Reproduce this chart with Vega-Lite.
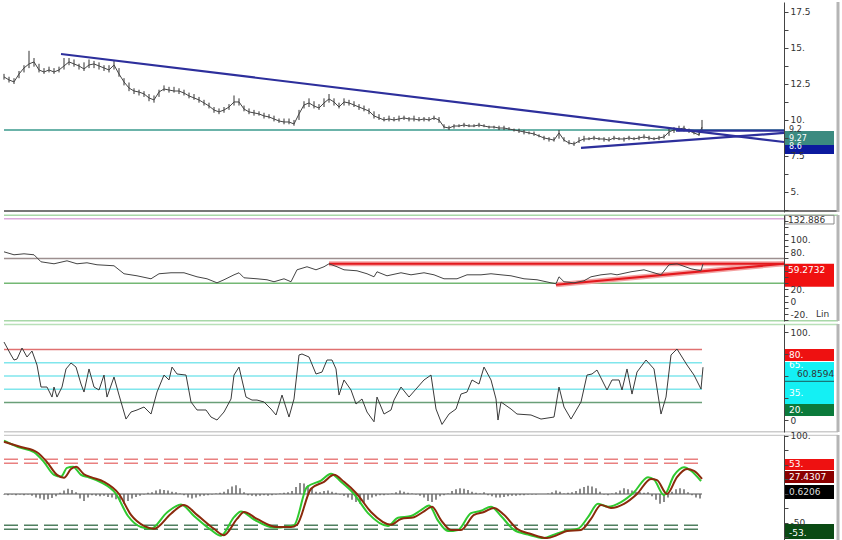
{
"$schema": "https://vega.github.io/schema/vega-lite/v6.json",
"padding": 0,
"background": "white",
"bounds": "flush",
"spacing": 3,
"config": {
  "view": {"stroke": null},
  "text": {"font": "DejaVu Sans"}
},
"datasets": {
  "price": [
    {"x":0,"v":12.99,"h":13.2,"l":12.8},{"x":5,"v":12.78,"h":13.0,"l":12.6},{"x":10,"v":12.64,"h":12.9,"l":12.5},{"x":15,"v":13.19,"h":13.4,"l":12.9},
    {"x":20,"v":13.61,"h":13.8,"l":13.3},{"x":25,"v":13.89,"h":14.8,"l":13.6},{"x":30,"v":14.03,"h":14.3,"l":13.7},{"x":35,"v":13.47,"h":13.9,"l":13.3},
    {"x":40,"v":13.33,"h":13.6,"l":13.2},{"x":45,"v":13.47,"h":13.7,"l":13.3},{"x":50,"v":13.33,"h":13.6,"l":13.2},{"x":55,"v":13.47,"h":13.7,"l":13.3},
    {"x":60,"v":13.75,"h":14.3,"l":13.5},{"x":65,"v":14.03,"h":14.3,"l":13.8},{"x":70,"v":13.89,"h":14.2,"l":13.7},{"x":75,"v":13.75,"h":13.9,"l":13.5},
    {"x":80,"v":13.54,"h":14.0,"l":13.4},{"x":85,"v":13.82,"h":14.2,"l":13.6},{"x":90,"v":13.89,"h":14.1,"l":13.6},{"x":95,"v":13.75,"h":14.0,"l":13.5},
    {"x":100,"v":13.61,"h":13.8,"l":13.4},{"x":105,"v":13.47,"h":13.8,"l":13.3},{"x":110,"v":13.82,"h":14.1,"l":13.5},{"x":115,"v":13.19,"h":13.6,"l":13.0},
    {"x":120,"v":12.64,"h":12.9,"l":12.4},{"x":125,"v":12.22,"h":12.6,"l":12.0},{"x":130,"v":12.01,"h":12.2,"l":11.8},{"x":135,"v":11.94,"h":12.1,"l":11.7},
    {"x":140,"v":11.81,"h":12.0,"l":11.6},{"x":145,"v":11.53,"h":11.8,"l":11.3},{"x":150,"v":11.39,"h":11.7,"l":11.2},{"x":155,"v":11.94,"h":12.1,"l":11.6},
    {"x":160,"v":12.15,"h":12.4,"l":12.0},{"x":165,"v":12.08,"h":12.3,"l":11.9},{"x":170,"v":12.01,"h":12.3,"l":11.9},{"x":175,"v":12.01,"h":12.2,"l":11.8},
    {"x":180,"v":11.87,"h":12.1,"l":11.7},{"x":185,"v":11.67,"h":11.9,"l":11.5},{"x":190,"v":11.53,"h":11.8,"l":11.4},{"x":195,"v":11.39,"h":11.6,"l":11.2},
    {"x":200,"v":11.18,"h":11.4,"l":11.0},{"x":205,"v":10.97,"h":11.2,"l":10.8},{"x":210,"v":10.69,"h":10.9,"l":10.5},{"x":215,"v":10.56,"h":10.8,"l":10.4},
    {"x":220,"v":10.69,"h":10.9,"l":10.5},{"x":225,"v":10.90,"h":11.1,"l":10.7},{"x":230,"v":11.25,"h":11.7,"l":11.0},{"x":235,"v":11.25,"h":11.5,"l":11.0},
    {"x":240,"v":10.76,"h":11.0,"l":10.6},{"x":245,"v":10.56,"h":10.8,"l":10.4},{"x":250,"v":10.49,"h":10.7,"l":10.3},{"x":255,"v":10.42,"h":10.6,"l":10.3},
    {"x":260,"v":10.28,"h":10.5,"l":10.1},{"x":265,"v":10.21,"h":10.4,"l":10.1},{"x":270,"v":10.07,"h":10.3,"l":9.9},{"x":275,"v":9.93,"h":10.1,"l":9.8},
    {"x":280,"v":9.86,"h":10.1,"l":9.7},{"x":285,"v":9.86,"h":10.1,"l":9.7},{"x":290,"v":9.72,"h":10.0,"l":9.6},{"x":295,"v":10.42,"h":10.7,"l":10.0},
    {"x":300,"v":11.04,"h":11.3,"l":10.8},{"x":305,"v":11.18,"h":11.5,"l":10.9},{"x":310,"v":10.97,"h":11.3,"l":10.8},{"x":315,"v":10.83,"h":11.1,"l":10.7},
    {"x":320,"v":11.18,"h":11.5,"l":10.9},{"x":325,"v":11.46,"h":11.8,"l":11.2},{"x":330,"v":11.25,"h":11.5,"l":11.0},{"x":335,"v":10.90,"h":11.2,"l":10.8},
    {"x":340,"v":11.25,"h":11.5,"l":11.0},{"x":345,"v":11.18,"h":11.4,"l":11.0},{"x":350,"v":11.04,"h":11.3,"l":10.9},{"x":355,"v":10.90,"h":11.1,"l":10.7},
    {"x":360,"v":10.76,"h":11.0,"l":10.6},{"x":365,"v":10.62,"h":10.8,"l":10.4},{"x":370,"v":10.28,"h":10.6,"l":10.1},{"x":375,"v":10.14,"h":10.4,"l":10.0},
    {"x":380,"v":10.00,"h":10.2,"l":9.9},{"x":385,"v":10.07,"h":10.3,"l":9.9},{"x":390,"v":10.00,"h":10.2,"l":9.9},{"x":395,"v":10.07,"h":10.3,"l":9.9},
    {"x":400,"v":10.14,"h":10.3,"l":10.0},{"x":405,"v":10.07,"h":10.2,"l":9.9},{"x":410,"v":10.07,"h":10.3,"l":9.9},{"x":415,"v":10.00,"h":10.2,"l":9.9},
    {"x":420,"v":10.07,"h":10.2,"l":9.9},{"x":425,"v":10.00,"h":10.2,"l":9.9},{"x":430,"v":10.14,"h":10.3,"l":10.0},{"x":435,"v":10.00,"h":10.2,"l":9.8},
    {"x":440,"v":9.51,"h":9.7,"l":9.4},{"x":445,"v":9.44,"h":9.6,"l":9.3},{"x":450,"v":9.58,"h":9.7,"l":9.4},{"x":455,"v":9.58,"h":9.7,"l":9.5},
    {"x":460,"v":9.65,"h":9.8,"l":9.5},{"x":465,"v":9.58,"h":9.7,"l":9.5},{"x":470,"v":9.58,"h":9.7,"l":9.5},{"x":475,"v":9.65,"h":9.8,"l":9.5},
    {"x":480,"v":9.58,"h":9.7,"l":9.5},{"x":485,"v":9.51,"h":9.6,"l":9.4},{"x":490,"v":9.51,"h":9.6,"l":9.4},{"x":495,"v":9.44,"h":9.6,"l":9.3},
    {"x":500,"v":9.44,"h":9.6,"l":9.3},{"x":505,"v":9.37,"h":9.5,"l":9.3},{"x":510,"v":9.31,"h":9.4,"l":9.2},{"x":515,"v":9.24,"h":9.4,"l":9.1},
    {"x":520,"v":9.17,"h":9.3,"l":9.0},{"x":525,"v":9.10,"h":9.2,"l":9.0},{"x":530,"v":9.03,"h":9.2,"l":8.9},{"x":535,"v":8.89,"h":9.0,"l":8.8},
    {"x":540,"v":8.75,"h":8.9,"l":8.6},{"x":545,"v":8.68,"h":8.8,"l":8.5},{"x":550,"v":8.60,"h":8.8,"l":8.5},{"x":555,"v":9.10,"h":9.3,"l":8.7},
    {"x":560,"v":8.60,"h":8.8,"l":8.5},{"x":565,"v":8.40,"h":8.6,"l":8.3},{"x":570,"v":8.33,"h":8.5,"l":8.2},{"x":575,"v":8.54,"h":8.8,"l":8.4},
    {"x":580,"v":8.68,"h":8.9,"l":8.5},{"x":585,"v":8.68,"h":8.8,"l":8.6},{"x":590,"v":8.75,"h":8.9,"l":8.6},{"x":595,"v":8.68,"h":8.8,"l":8.6},
    {"x":600,"v":8.68,"h":8.8,"l":8.5},{"x":605,"v":8.60,"h":8.8,"l":8.5},{"x":610,"v":8.75,"h":8.9,"l":8.6},{"x":615,"v":8.68,"h":8.8,"l":8.6},
    {"x":620,"v":8.68,"h":8.8,"l":8.5},{"x":625,"v":8.75,"h":8.9,"l":8.6},{"x":630,"v":8.68,"h":8.8,"l":8.6},{"x":635,"v":8.75,"h":8.9,"l":8.6},
    {"x":640,"v":8.82,"h":9.0,"l":8.7},{"x":645,"v":8.75,"h":8.9,"l":8.6},{"x":650,"v":8.68,"h":8.8,"l":8.6},{"x":655,"v":8.75,"h":8.9,"l":8.6},
    {"x":660,"v":8.82,"h":9.0,"l":8.7},{"x":665,"v":9.17,"h":9.4,"l":8.9},{"x":670,"v":9.31,"h":9.5,"l":9.1},{"x":675,"v":9.37,"h":9.6,"l":9.2},
    {"x":680,"v":9.44,"h":9.6,"l":9.2},{"x":685,"v":9.24,"h":9.4,"l":9.1},{"x":690,"v":9.10,"h":9.3,"l":9.0},{"x":695,"v":8.96,"h":9.2,"l":8.9},
    {"x":698,"v":9.51,"h":10.0,"l":9.3}
  ],
  "tl1": [
    {"x":57,"v":14.58,"g":"a"},{"x":780,"v":8.47,"g":"a"},
    {"x":577,"v":8.06,"g":"b"},{"x":780,"v":9.10,"g":"b"},
    {"x":672,"v":9.26,"g":"c"},{"x":780,"v":9.26,"g":"c"}
  ],
  "rsi": [
    {"x":0,"v":80.6},{"x":10,"v":75.8},{"x":20,"v":77.4},{"x":30,"v":75.8},{"x":37,"v":64.5},{"x":50,"v":61.3},{"x":63,"v":66.1},{"x":73,"v":61.3},
    {"x":83,"v":62.9},{"x":93,"v":59.7},{"x":110,"v":58.1},{"x":120,"v":45.2},{"x":133,"v":41.9},{"x":147,"v":37.1},{"x":155,"v":45.2},{"x":167,"v":46.8},
    {"x":180,"v":46.8},{"x":193,"v":40.3},{"x":203,"v":37.1},{"x":213,"v":30.6},{"x":220,"v":35.5},{"x":230,"v":43.5},{"x":235,"v":46.8},{"x":240,"v":38.7},
    {"x":253,"v":37.1},{"x":263,"v":35.5},{"x":270,"v":32.3},{"x":280,"v":37.1},{"x":287,"v":32.3},{"x":293,"v":51.6},{"x":303,"v":56.5},{"x":312,"v":51.6},
    {"x":320,"v":56.5},{"x":325,"v":61.3},{"x":333,"v":56.5},{"x":340,"v":51.6},{"x":353,"v":50.0},{"x":363,"v":45.2},{"x":370,"v":40.3},{"x":373,"v":48.4},
    {"x":383,"v":41.9},{"x":397,"v":46.8},{"x":407,"v":43.5},{"x":420,"v":46.8},{"x":430,"v":43.5},{"x":440,"v":37.1},{"x":453,"v":37.1},{"x":463,"v":43.5},
    {"x":477,"v":43.5},{"x":487,"v":45.2},{"x":497,"v":43.5},{"x":507,"v":41.9},{"x":520,"v":37.1},{"x":533,"v":35.5},{"x":547,"v":30.6},{"x":552,"v":29.0},
    {"x":555,"v":40.3},{"x":560,"v":32.3},{"x":570,"v":30.6},{"x":580,"v":33.9},{"x":587,"v":40.3},{"x":597,"v":43.5},{"x":607,"v":45.2},{"x":613,"v":43.5},
    {"x":627,"v":48.4},{"x":640,"v":51.6},{"x":650,"v":46.8},{"x":657,"v":43.5},{"x":665,"v":59.7},{"x":673,"v":61.3},{"x":687,"v":53.2},{"x":697,"v":50.0},
    {"x":699,"v":61.0}
  ],
  "stoch": [
    {"x":0,"v":88.6},{"x":7,"v":73.9},{"x":10,"v":68.2},{"x":13,"v":69.3},{"x":18,"v":81.8},{"x":23,"v":71.6},{"x":28,"v":78.4},{"x":33,"v":62.5},
    {"x":37,"v":37.5},{"x":43,"v":37.5},{"x":48,"v":26.1},{"x":50,"v":37.5},{"x":53,"v":26.1},{"x":58,"v":37.5},{"x":62,"v":58.0},{"x":67,"v":64.8},
    {"x":72,"v":60.2},{"x":77,"v":40.9},{"x":80,"v":31.8},{"x":85,"v":58.0},{"x":90,"v":37.5},{"x":95,"v":34.1},{"x":100,"v":51.1},{"x":103,"v":26.1},
    {"x":110,"v":48.9},{"x":115,"v":28.4},{"x":122,"v":1.1},{"x":127,"v":9.1},{"x":133,"v":11.4},{"x":140,"v":14.8},{"x":147,"v":6.8},{"x":153,"v":31.8},
    {"x":160,"v":51.1},{"x":165,"v":45.5},{"x":168,"v":60.2},{"x":173,"v":52.3},{"x":182,"v":51.1},{"x":187,"v":20.5},{"x":193,"v":11.4},{"x":202,"v":11.4},
    {"x":207,"v":3.4},{"x":213,"v":0},{"x":220,"v":9.1},{"x":227,"v":23.9},{"x":230,"v":51.1},{"x":235,"v":60.2},{"x":238,"v":45.5},{"x":242,"v":26.1},
    {"x":248,"v":22.7},{"x":253,"v":22.7},{"x":260,"v":20.5},{"x":267,"v":12.5},{"x":272,"v":5.7},{"x":278,"v":28.4},{"x":285,"v":3.4},{"x":290,"v":23.9},
    {"x":295,"v":73.9},{"x":298,"v":75.0},{"x":305,"v":71.6},{"x":312,"v":52.3},{"x":318,"v":54.5},{"x":323,"v":68.2},{"x":328,"v":68.2},{"x":332,"v":58.0},
    {"x":335,"v":28.4},{"x":340,"v":45.5},{"x":347,"v":34.1},{"x":352,"v":18.2},{"x":358,"v":23.9},{"x":363,"v":9.1},{"x":370,"v":-2.0},{"x":373,"v":26.1},
    {"x":380,"v":6.8},{"x":387,"v":11.4},{"x":390,"v":22.7},{"x":397,"v":37.5},{"x":405,"v":26.1},{"x":412,"v":35.2},{"x":420,"v":45.5},{"x":427,"v":51.1},
    {"x":432,"v":12.5},{"x":438,"v":-5.0},{"x":445,"v":6.8},{"x":452,"v":12.5},{"x":457,"v":29.5},{"x":463,"v":31.8},{"x":468,"v":45.5},{"x":475,"v":40.9},
    {"x":480,"v":60.2},{"x":487,"v":45.5},{"x":492,"v":23.9},{"x":494,"v":0},{"x":497,"v":20.5},{"x":507,"v":12.5},{"x":513,"v":6.8},{"x":527,"v":5.7},
    {"x":537,"v":1.1},{"x":550,"v":3.4},{"x":555,"v":37.5},{"x":560,"v":14.8},{"x":567,"v":1.1},{"x":577,"v":20.5},{"x":583,"v":51.1},{"x":588,"v":52.3},
    {"x":593,"v":56.8},{"x":603,"v":34.1},{"x":608,"v":45.5},{"x":615,"v":45.5},{"x":618,"v":34.1},{"x":623,"v":58.0},{"x":628,"v":29.5},{"x":633,"v":54.5},
    {"x":642,"v":68.2},{"x":650,"v":58.0},{"x":657,"v":6.8},{"x":662,"v":26.1},{"x":667,"v":73.9},{"x":673,"v":80.7},{"x":683,"v":62.5},{"x":690,"v":51.1},
    {"x":697,"v":35.2},{"x":699,"v":60.0}
  ],
  "osc": [
    {"x":0,"v":90,"g":"B"},{"x":17,"v":81,"g":"B"},{"x":33,"v":72,"g":"B"},{"x":43,"v":55,"g":"B"},{"x":53,"v":33,"g":"B"},{"x":60,"v":28,"g":"B"},
    {"x":67,"v":43,"g":"B"},{"x":72,"v":47,"g":"B"},{"x":80,"v":34,"g":"B"},{"x":87,"v":29,"g":"B"},{"x":100,"v":21,"g":"B"},{"x":115,"v":0,"g":"B"},
    {"x":127,"v":-36,"g":"B"},{"x":140,"v":-55,"g":"B"},{"x":150,"v":-60,"g":"B"},{"x":167,"v":-34,"g":"B"},{"x":180,"v":-19,"g":"B"},{"x":193,"v":-36,"g":"B"},
    {"x":210,"v":-60,"g":"B"},{"x":220,"v":-71,"g":"B"},{"x":233,"v":-43,"g":"B"},{"x":240,"v":-31,"g":"B"},{"x":253,"v":-43,"g":"B"},{"x":273,"v":-57,"g":"B"},
    {"x":287,"v":-57,"g":"B"},{"x":293,"v":-53,"g":"B"},{"x":307,"v":9,"g":"B"},{"x":320,"v":21,"g":"B"},{"x":330,"v":33,"g":"B"},{"x":340,"v":21,"g":"B"},
    {"x":353,"v":0,"g":"B"},{"x":367,"v":-31,"g":"B"},{"x":387,"v":-53,"g":"B"},{"x":397,"v":-43,"g":"B"},{"x":410,"v":-40,"g":"B"},{"x":420,"v":-30,"g":"B"},
    {"x":428,"v":-22,"g":"B"},{"x":437,"v":-45,"g":"B"},{"x":447,"v":-62,"g":"B"},{"x":457,"v":-62,"g":"B"},{"x":470,"v":-36,"g":"B"},{"x":480,"v":-31,"g":"B"},
    {"x":490,"v":-24,"g":"B"},{"x":500,"v":-36,"g":"B"},{"x":513,"v":-60,"g":"B"},{"x":527,"v":-69,"g":"B"},{"x":543,"v":-76,"g":"B"},{"x":553,"v":-71,"g":"B"},
    {"x":563,"v":-64,"g":"B"},{"x":577,"v":-62,"g":"B"},{"x":587,"v":-43,"g":"B"},{"x":597,"v":-19,"g":"B"},{"x":607,"v":-24,"g":"B"},{"x":620,"v":-17,"g":"B"},
    {"x":633,"v":0,"g":"B"},{"x":647,"v":26,"g":"B"},{"x":653,"v":24,"g":"B"},{"x":663,"v":0,"g":"B"},{"x":673,"v":29,"g":"B"},{"x":683,"v":43,"g":"B"},
    {"x":690,"v":40,"g":"B"},{"x":698,"v":26,"g":"B"},
    {"x":0,"v":92,"g":"G"},{"x":14,"v":81,"g":"G"},{"x":30,"v":72,"g":"G"},{"x":40,"v":55,"g":"G"},{"x":50,"v":33,"g":"G"},{"x":57,"v":30,"g":"G"},
    {"x":63,"v":45,"g":"G"},{"x":69,"v":47,"g":"G"},{"x":77,"v":33,"g":"G"},{"x":84,"v":29,"g":"G"},{"x":97,"v":20,"g":"G"},{"x":112,"v":0,"g":"G"},
    {"x":124,"v":-38,"g":"G"},{"x":137,"v":-57,"g":"G"},{"x":147,"v":-60,"g":"G"},{"x":163,"v":-32,"g":"G"},{"x":177,"v":-18,"g":"G"},{"x":190,"v":-38,"g":"G"},
    {"x":207,"v":-62,"g":"G"},{"x":217,"v":-72,"g":"G"},{"x":230,"v":-40,"g":"G"},{"x":237,"v":-30,"g":"G"},{"x":250,"v":-44,"g":"G"},{"x":270,"v":-58,"g":"G"},
    {"x":284,"v":-56,"g":"G"},{"x":290,"v":-54,"g":"G"},{"x":303,"v":12,"g":"G"},{"x":317,"v":23,"g":"G"},{"x":327,"v":35,"g":"G"},{"x":337,"v":21,"g":"G"},
    {"x":350,"v":0,"g":"G"},{"x":364,"v":-33,"g":"G"},{"x":384,"v":-55,"g":"G"},{"x":394,"v":-41,"g":"G"},{"x":407,"v":-38,"g":"G"},{"x":417,"v":-28,"g":"G"},
    {"x":425,"v":-20,"g":"G"},{"x":434,"v":-46,"g":"G"},{"x":444,"v":-64,"g":"G"},{"x":454,"v":-62,"g":"G"},{"x":467,"v":-33,"g":"G"},{"x":477,"v":-29,"g":"G"},
    {"x":487,"v":-22,"g":"G"},{"x":497,"v":-38,"g":"G"},{"x":510,"v":-62,"g":"G"},{"x":524,"v":-70,"g":"G"},{"x":540,"v":-76,"g":"G"},{"x":550,"v":-70,"g":"G"},
    {"x":560,"v":-64,"g":"G"},{"x":574,"v":-60,"g":"G"},{"x":584,"v":-40,"g":"G"},{"x":594,"v":-17,"g":"G"},{"x":604,"v":-22,"g":"G"},{"x":617,"v":-14,"g":"G"},
    {"x":630,"v":3,"g":"G"},{"x":644,"v":29,"g":"G"},{"x":650,"v":25,"g":"G"},{"x":660,"v":-2,"g":"G"},{"x":670,"v":32,"g":"G"},{"x":680,"v":46,"g":"G"},
    {"x":687,"v":40,"g":"G"},{"x":697,"v":22,"g":"G"}
  ],
  "hist": [
    {"x":0,"v":-1},{"x":4,"v":-2},{"x":8,"v":-1},{"x":12,"v":-2},{"x":16,"v":-1},{"x":20,"v":-2},{"x":24,"v":-1},{"x":28,"v":-3},
    {"x":32,"v":-6},{"x":36,"v":-8},{"x":40,"v":-10},{"x":44,"v":-9},{"x":48,"v":-7},{"x":52,"v":-4},{"x":56,"v":2},{"x":60,"v":6},
    {"x":64,"v":9},{"x":68,"v":7},{"x":72,"v":3},{"x":76,"v":-8},{"x":80,"v":-12},{"x":84,"v":-6},{"x":88,"v":-2},{"x":92,"v":-3},
    {"x":96,"v":-4},{"x":100,"v":-3},{"x":104,"v":-5},{"x":108,"v":-6},{"x":112,"v":-9},{"x":116,"v":-14},{"x":120,"v":-17},{"x":124,"v":-12},
    {"x":128,"v":-8},{"x":132,"v":-5},{"x":136,"v":-3},{"x":140,"v":-1},{"x":144,"v":2},{"x":148,"v":3},{"x":152,"v":6},{"x":156,"v":8},
    {"x":160,"v":7},{"x":164,"v":6},{"x":168,"v":4},{"x":172,"v":3},{"x":176,"v":1},{"x":180,"v":-2},{"x":184,"v":-6},{"x":188,"v":-8},
    {"x":192,"v":-6},{"x":196,"v":-4},{"x":200,"v":-3},{"x":204,"v":-2},{"x":208,"v":-1},{"x":212,"v":1},{"x":216,"v":2},{"x":220,"v":4},
    {"x":224,"v":8},{"x":228,"v":13},{"x":232,"v":15},{"x":236,"v":10},{"x":240,"v":3},{"x":244,"v":-2},{"x":248,"v":-3},{"x":252,"v":-4},
    {"x":256,"v":-3},{"x":260,"v":-2},{"x":264,"v":-3},{"x":268,"v":-2},{"x":272,"v":-1},{"x":276,"v":1},{"x":280,"v":2},{"x":284,"v":3},
    {"x":288,"v":5},{"x":292,"v":12},{"x":296,"v":19},{"x":300,"v":18},{"x":304,"v":15},{"x":308,"v":10},{"x":312,"v":4},{"x":316,"v":3},
    {"x":320,"v":5},{"x":324,"v":6},{"x":328,"v":4},{"x":332,"v":2},{"x":336,"v":-1},{"x":340,"v":-3},{"x":344,"v":-6},{"x":348,"v":-10},
    {"x":352,"v":-14},{"x":356,"v":-17},{"x":360,"v":-15},{"x":364,"v":-10},{"x":368,"v":-6},{"x":372,"v":-4},{"x":376,"v":-2},{"x":380,"v":-2},
    {"x":384,"v":-1},{"x":388,"v":1},{"x":392,"v":3},{"x":396,"v":6},{"x":400,"v":4},{"x":404,"v":2},{"x":408,"v":1},{"x":412,"v":-1},
    {"x":416,"v":-3},{"x":420,"v":-6},{"x":424,"v":-12},{"x":428,"v":-14},{"x":432,"v":-10},{"x":436,"v":-4},{"x":440,"v":-2},{"x":444,"v":1},
    {"x":448,"v":5},{"x":452,"v":8},{"x":456,"v":10},{"x":460,"v":9},{"x":464,"v":7},{"x":468,"v":4},{"x":472,"v":2},{"x":476,"v":1},
    {"x":480,"v":3},{"x":484,"v":-2},{"x":488,"v":-4},{"x":492,"v":-6},{"x":496,"v":-6},{"x":500,"v":-5},{"x":504,"v":-4},{"x":508,"v":-3},
    {"x":512,"v":-3},{"x":516,"v":-2},{"x":520,"v":-2},{"x":524,"v":-1},{"x":528,"v":-1},{"x":532,"v":-1},{"x":536,"v":0},{"x":540,"v":0},
    {"x":544,"v":1},{"x":548,"v":3},{"x":552,"v":6},{"x":556,"v":4},{"x":560,"v":1},{"x":564,"v":2},{"x":568,"v":3},{"x":572,"v":5},
    {"x":576,"v":9},{"x":580,"v":12},{"x":584,"v":14},{"x":588,"v":13},{"x":592,"v":10},{"x":596,"v":4},{"x":600,"v":-1},{"x":604,"v":-2},
    {"x":608,"v":1},{"x":612,"v":3},{"x":616,"v":6},{"x":620,"v":10},{"x":624,"v":8},{"x":628,"v":6},{"x":632,"v":4},{"x":636,"v":3},
    {"x":640,"v":2},{"x":644,"v":3},{"x":648,"v":-4},{"x":652,"v":-10},{"x":656,"v":-17},{"x":660,"v":-14},{"x":664,"v":-6},{"x":668,"v":4},
    {"x":672,"v":8},{"x":676,"v":10},{"x":680,"v":8},{"x":684,"v":3},{"x":688,"v":-2},{"x":692,"v":-6},{"x":696,"v":-8}
  ]
},
"vconcat": [
  {
    "width": 780, "height": 210,
    "encoding": {
      "x": {"field": "x", "type": "quantitative", "scale": {"domain": [0, 834], "range": [0, 834], "nice": false, "zero": false}, "axis": null},
      "y": {"field": "v", "type": "quantitative", "scale": {"domain": [3.61, 18.19], "nice": false, "zero": false},
        "axis": {"orient": "right", "title": null, "grid": false, "zindex": 1, "domainColor": "#444", "tickColor": "#444", "tickSize": 4, "labelFontSize": 9, "labelColor": "#333", "labelFont": "DejaVu Sans", "labelPadding": 2,
          "values": [3.75,5,6.25,7.5,8.75,10,11.25,12.5,13.75,15,16.25,17.5],
          "labelExpr": "datum.value % 2.5 == 0 ? (datum.value % 1 == 0 ? datum.value + '.' : '' + datum.value) : ''"}}
    },
    "layer": [
      {"data": {"values": [{"x": 0, "x2": 780, "v": 9.31}]}, "mark": {"type": "rule", "color": "#3a9a8c", "strokeWidth": 1.5}, "encoding": {"x2": {"field": "x2"}}},
      {"data": {"values": [{"x": 0, "x2": 834, "v": 3.68}]}, "mark": {"type": "rule", "color": "#777", "strokeWidth": 2}, "encoding": {"x2": {"field": "x2"}}},
      {"data": {"name": "price"}, "mark": {"type": "rule", "color": "#333", "strokeWidth": 1},
       "encoding": {"y": {"field": "l", "type": "quantitative"}, "y2": {"field": "h"}}},
      {"data": {"name": "price"}, "mark": {"type": "line", "color": "#444", "strokeWidth": 1}},
      {"data": {"name": "tl1"}, "mark": {"type": "line", "color": "#2d2f9c", "strokeWidth": 2.2}, "encoding": {"detail": {"field": "g"}}},
      {"data": {"values": [{"x": 781, "x2": 830, "v": 9.24, "v2": 8.26, "c": "#3b8a80"}, {"x": 781, "x2": 830, "v": 8.26, "v2": 7.64, "c": "#0c1a9e"}]},
       "mark": {"type": "rect"},
       "encoding": {"x2": {"field": "x2"}, "y2": {"field": "v2"}, "color": {"field": "c", "type": "nominal", "scale": null}}},
      {"data": {"values": [{"x": 785, "v": 9.3, "t": "9.2", "c": "#333", "s": 8}, {"x": 785, "v": 8.68, "t": "9.27", "c": "#ffffff", "s": 8}, {"x": 785, "v": 8.1, "t": "8.6", "c": "#ffffff", "s": 8}]},
       "mark": {"type": "text", "align": "left", "baseline": "middle"},
       "encoding": {"text": {"field": "t"}, "color": {"field": "c", "type": "nominal", "scale": null}, "size": {"field": "s", "type": "quantitative", "scale": null}}},
      {"data": {"values": [{"x": 834, "v": 18.19, "v2": 3.61}]}, "mark": {"type": "rule", "color": "#b5b5b5", "strokeWidth": 3}, "encoding": {"y2": {"field": "v2"}}}
    ]
  },
  {
    "width": 780, "height": 106,
    "encoding": {
      "x": {"field": "x", "type": "quantitative", "scale": {"domain": [0, 834], "range": [0, 834], "nice": false, "zero": false}, "axis": null},
      "y": {"field": "v", "type": "quantitative", "scale": {"domain": [-31, 140], "nice": false, "zero": false},
        "axis": {"orient": "right", "title": null, "grid": false, "zindex": 1, "domainColor": "#444", "tickColor": "#444", "tickSize": 4, "labelFontSize": 9, "labelColor": "#333", "labelFont": "DejaVu Sans", "labelPadding": 2,
          "values": [-30,-20,-10,0,10,20,30,40,50,60,70,80,90,100,110,120,130],
          "labelExpr": "datum.value % 20 == 0 && datum.value <= 100 && (datum.value < 30 || datum.value > 70) ? (datum.value == 0 ? '0' : datum.value + '.') : ''"}}
    },
    "layer": [
      {"data": {"values": [{"x": 0, "x2": 780, "v": 134, "c": "#dcaadc"}, {"x": 0, "x2": 780, "v": 70, "c": "#9d8f8f"}, {"x": 0, "x2": 780, "v": 30, "c": "#74b874"}, {"x": 0, "x2": 834, "v": 139.5, "c": "#a8d8a8"}, {"x": 0, "x2": 834, "v": -30.5, "c": "#a8d8a8"}]},
       "mark": {"type": "rule", "strokeWidth": 1.5},
       "encoding": {"x2": {"field": "x2"}, "color": {"field": "c", "type": "nominal", "scale": null}}},
      {"data": {"values": [{"x": 325, "v": 61.3, "g": "h"}, {"x": 780, "v": 61.3, "g": "h"}, {"x": 552, "v": 27.4, "g": "u"}, {"x": 780, "v": 61.3, "g": "u"}]},
       "mark": {"type": "line", "color": "#f3a3a3", "strokeWidth": 5}, "encoding": {"detail": {"field": "g"}}},
      {"data": {"values": [{"x": 325, "v": 61.3, "g": "h"}, {"x": 780, "v": 61.3, "g": "h"}, {"x": 552, "v": 27.4, "g": "u"}, {"x": 780, "v": 61.3, "g": "u"}]},
       "mark": {"type": "line", "color": "#e3191e", "strokeWidth": 2}, "encoding": {"detail": {"field": "g"}}},
      {"data": {"name": "rsi"}, "mark": {"type": "line", "color": "#444", "strokeWidth": 1}},
      {"data": {"values": [{"x": 781, "x2": 830, "v": 139.5, "v2": 125.5, "c": "#ffffff"}]},
       "mark": {"type": "rect", "stroke": "#888", "strokeWidth": 1},
       "encoding": {"x2": {"field": "x2"}, "y2": {"field": "v2"}, "color": {"field": "c", "type": "nominal", "scale": null}}},
      {"data": {"values": [{"x": 781, "x2": 830, "v": 61.3, "v2": 24.2, "c": "#f01010"}]},
       "mark": {"type": "rect"},
       "encoding": {"x2": {"field": "x2"}, "y2": {"field": "v2"}, "color": {"field": "c", "type": "nominal", "scale": null}}},
      {"data": {"values": [{"x": 784, "v": 132.5, "t": "132.886", "c": "#333", "w": "normal"}, {"x": 784, "v": 52, "t": "59.2732", "c": "#ffffff", "w": "bold"}, {"x": 812, "v": -20, "t": "Lin", "c": "#333", "w": "bold"}]},
       "mark": {"type": "text", "align": "left", "baseline": "middle", "fontSize": 9},
       "encoding": {"text": {"field": "t"}, "color": {"field": "c", "type": "nominal", "scale": null}, "fontWeight": {"field": "w", "type": "nominal", "scale": null}}},
      {"data": {"values": [{"x": 834, "v": 140, "v2": -31}]}, "mark": {"type": "rule", "color": "#b5b5b5", "strokeWidth": 3}, "encoding": {"y2": {"field": "v2"}}}
    ]
  },
  {
    "width": 780, "height": 108,
    "encoding": {
      "x": {"field": "x", "type": "quantitative", "scale": {"domain": [0, 834], "range": [0, 834], "nice": false, "zero": false}, "axis": null},
      "y": {"field": "v", "type": "quantitative", "scale": {"domain": [-13.6, 109.1], "nice": false, "zero": false},
        "axis": {"orient": "right", "title": null, "grid": false, "zindex": 1, "domainColor": "#444", "tickColor": "#444", "tickSize": 4, "labelFontSize": 9, "labelColor": "#333", "labelFont": "DejaVu Sans", "labelPadding": 2,
          "values": [0, 25, 50, 75, 100], "labelExpr": "datum.value == 100 ? '100.' : (datum.value == 0 ? '0' : '')"}}
    },
    "layer": [
      {"data": {"values": [{"x": 0, "x2": 698, "v": 80, "c": "#e07070"}, {"x": 0, "x2": 698, "v": 65, "c": "#80e6ec"}, {"x": 0, "x2": 698, "v": 50, "c": "#80e6ec"}, {"x": 0, "x2": 698, "v": 35, "c": "#80e6ec"}, {"x": 0, "x2": 698, "v": 20, "c": "#6a9f78"}, {"x": 0, "x2": 834, "v": 108.5, "c": "#b8e0b8"}, {"x": 0, "x2": 834, "v": -13.2, "c": "#cccccc"}]},
       "mark": {"type": "rule", "strokeWidth": 1.5},
       "encoding": {"x2": {"field": "x2"}, "color": {"field": "c", "type": "nominal", "scale": null}}},
      {"data": {"name": "stoch"}, "mark": {"type": "line", "color": "#3a3a3a", "strokeWidth": 1}},
      {"data": {"values": [{"x": 781, "x2": 830, "v": 80.7, "v2": 67, "c": "#ee1111"}, {"x": 781, "x2": 830, "v": 66, "v2": 18.2, "c": "#14f0f4"}, {"x": 781, "x2": 830, "v": 18.2, "v2": 4.5, "c": "#0b7a3b"}]},
       "mark": {"type": "rect"},
       "encoding": {"x2": {"field": "x2"}, "y2": {"field": "v2"}, "color": {"field": "c", "type": "nominal", "scale": null}}},
      {"data": {"values": [{"x": 781, "x2": 830, "v": 44}]}, "mark": {"type": "rule", "color": "#1a5a5a", "strokeWidth": 1}, "encoding": {"x2": {"field": "x2"}}},
      {"data": {"values": [{"x": 785, "v": 74, "t": "80.", "c": "#ffffff"}, {"x": 785, "v": 62.5, "t": "65.", "c": "#ffffff"}, {"x": 793, "v": 52.5, "t": "60.8594", "c": "#333333"}, {"x": 785, "v": 31, "t": "35.", "c": "#ffffff"}, {"x": 785, "v": 11.5, "t": "20.", "c": "#ffffff"}]},
       "mark": {"type": "text", "align": "left", "baseline": "middle", "fontSize": 9},
       "encoding": {"text": {"field": "t"}, "color": {"field": "c", "type": "nominal", "scale": null}}},
      {"data": {"values": [{"x": 834, "v": 109.1, "v2": -13.6}]}, "mark": {"type": "rule", "color": "#b5b5b5", "strokeWidth": 3}, "encoding": {"y2": {"field": "v2"}}}
    ]
  },
  {
    "width": 780, "height": 107,
    "encoding": {
      "x": {"field": "x", "type": "quantitative", "scale": {"domain": [0, 834], "range": [0, 834], "nice": false, "zero": false}, "axis": null},
      "y": {"field": "v", "type": "quantitative", "scale": {"domain": [-82.8, 101.7], "nice": false, "zero": false},
        "axis": {"orient": "right", "title": null, "grid": false, "zindex": 1, "domainColor": "#444", "tickColor": "#444", "tickSize": 4, "labelFontSize": 9, "labelColor": "#333", "labelFont": "DejaVu Sans", "labelPadding": 2,
          "values": [-75, -50, -25, 0, 25, 50, 75, 100], "labelExpr": "datum.value == 100 ? '100.' : (datum.value == -50 ? '-50' : '')"}}
    },
    "layer": [
      {"data": {"values": [{"x": 0, "x2": 698, "v": 60, "c": "#e98080"}, {"x": 0, "x2": 698, "v": 53, "c": "#e98080"}, {"x": 0, "x2": 698, "v": -54, "c": "#4f7f5f"}, {"x": 0, "x2": 698, "v": -61, "c": "#4f7f5f"}]},
       "mark": {"type": "rule", "strokeWidth": 1.5, "strokeDash": [14, 6]},
       "encoding": {"x2": {"field": "x2"}, "color": {"field": "c", "type": "nominal", "scale": null}}},
      {"data": {"values": [{"x": 0, "x2": 834, "v": 101.2, "c": "#cccccc"}, {"x": 0, "x2": 698, "v": 0, "c": "#555555"}]}, "mark": {"type": "rule", "strokeWidth": 1.2},
       "encoding": {"x2": {"field": "x2"}, "color": {"field": "c", "type": "nominal", "scale": null}}},
      {"data": {"name": "hist"}, "mark": {"type": "rule", "color": "#666", "strokeWidth": 1.5}, "encoding": {"y2": {"datum": 0}}},
      {"data": {"name": "osc"}, "transform": [{"filter": "datum.g == 'G'"}], "mark": {"type": "line", "color": "#2fc92f", "strokeWidth": 2, "interpolate": "monotone"}},
      {"data": {"name": "osc"}, "transform": [{"filter": "datum.g == 'B'"}], "mark": {"type": "line", "color": "#8a2a0c", "strokeWidth": 2, "interpolate": "monotone"}},
      {"data": {"values": [{"x": 781, "x2": 830, "v": 60.3, "v2": 41.4, "c": "#ee1111"}, {"x": 781, "x2": 830, "v": 39.7, "v2": 19, "c": "#8b0000"}, {"x": 781, "x2": 830, "v": 15.5, "v2": -8.6, "c": "#000000"}, {"x": 781, "x2": 830, "v": -51.7, "v2": -77.6, "c": "#0a4a14"}]},
       "mark": {"type": "rect"},
       "encoding": {"x2": {"field": "x2"}, "y2": {"field": "v2"}, "color": {"field": "c", "type": "nominal", "scale": null}}},
      {"data": {"values": [{"x": 785, "v": 51, "t": "53.", "c": "#ffffff"}, {"x": 785, "v": 29, "t": "27.4307", "c": "#ffffff"}, {"x": 785, "v": 3, "t": "0.6206", "c": "#dddddd"}, {"x": 785, "v": -67, "t": "-53.", "c": "#ffffff"}]},
       "mark": {"type": "text", "align": "left", "baseline": "middle", "fontSize": 9},
       "encoding": {"text": {"field": "t"}, "color": {"field": "c", "type": "nominal", "scale": null}}},
      {"data": {"values": [{"x": 834, "v": 101.7, "v2": -82.8}]}, "mark": {"type": "rule", "color": "#b5b5b5", "strokeWidth": 3}, "encoding": {"y2": {"field": "v2"}}}
    ]
  }
]
}
